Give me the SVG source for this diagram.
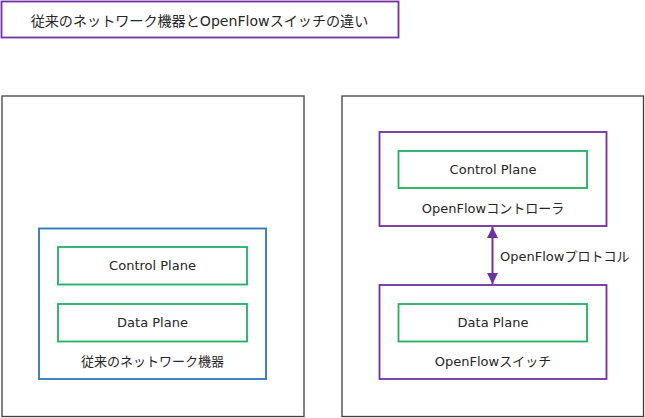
<svg xmlns="http://www.w3.org/2000/svg" width="645" height="418" viewBox="0 0 645 418">
<style>
text{font-family:"DejaVu Sans","Noto Sans CJK JP",sans-serif;font-size:13px;fill:#262626;text-anchor:middle;dominant-baseline:central}
.outer{fill:#fff;stroke:#404040;stroke-width:1.3}
.purple{fill:#fff;stroke:#7030A0;stroke-width:1.8}
.blue{fill:#fff;stroke:#2E75B6;stroke-width:1.8}
.green{fill:#fff;stroke:#20B060;stroke-width:1.8}
</style>
<defs>
<marker id="ah" viewBox="0 0 10 10" refX="10" refY="5" markerWidth="5.5" markerHeight="5.5" orient="auto-start-reverse" markerUnits="strokeWidth"><path d="M0,0 L10,5 L0,10 z" fill="#7030A0"/></marker>
</defs>
<rect width="645" height="418" fill="#fff"/>
<g id="title">
<rect class="purple" x="1.5" y="1.5" width="397" height="36"/>
<text x="199.5" y="20.5" style="font-size:14.1px">従来のネットワーク機器とOpenFlowスイッチの違い</text>
</g>
<g id="left-panel"><rect class="outer" x="2" y="96" width="302" height="320.5"/></g>
<g id="right-panel"><rect class="outer" x="342" y="96" width="301.5" height="320.5"/></g>
<g id="legacy-device">
<rect class="blue" x="39" y="228.5" width="227" height="150.5"/>
<text x="152.5" y="361">従来のネットワーク機器</text>
</g>
<g id="legacy-control">
<rect class="green" x="58" y="247" width="189" height="37.5"/>
<text x="152.5" y="265.5">Control Plane</text>
</g>
<g id="legacy-data">
<rect class="green" x="58" y="304" width="189" height="37.5"/>
<text x="152.5" y="322.5">Data Plane</text>
</g>
<g id="controller">
<rect class="purple" x="379.5" y="132" width="227" height="94"/>
<text x="493" y="208.5">OpenFlowコントローラ</text>
</g>
<g id="controller-control">
<rect class="green" x="398.5" y="151" width="188.5" height="37"/>
<text x="493" y="169">Control Plane</text>
</g>
<g id="switch">
<rect class="purple" x="379.5" y="285" width="227" height="94"/>
<text x="493" y="361">OpenFlowスイッチ</text>
</g>
<g id="switch-data">
<rect class="green" x="398.5" y="304" width="188.5" height="37.5"/>
<text x="493" y="322.5">Data Plane</text>
</g>
<g id="connectors">
<line x1="492.5" y1="227" x2="492.5" y2="284" stroke="#7030A0" stroke-width="2" marker-start="url(#ah)" marker-end="url(#ah)"/>
<text x="500" y="256" style="text-anchor:start">OpenFlowプロトコル</text>
</g>
</svg>
